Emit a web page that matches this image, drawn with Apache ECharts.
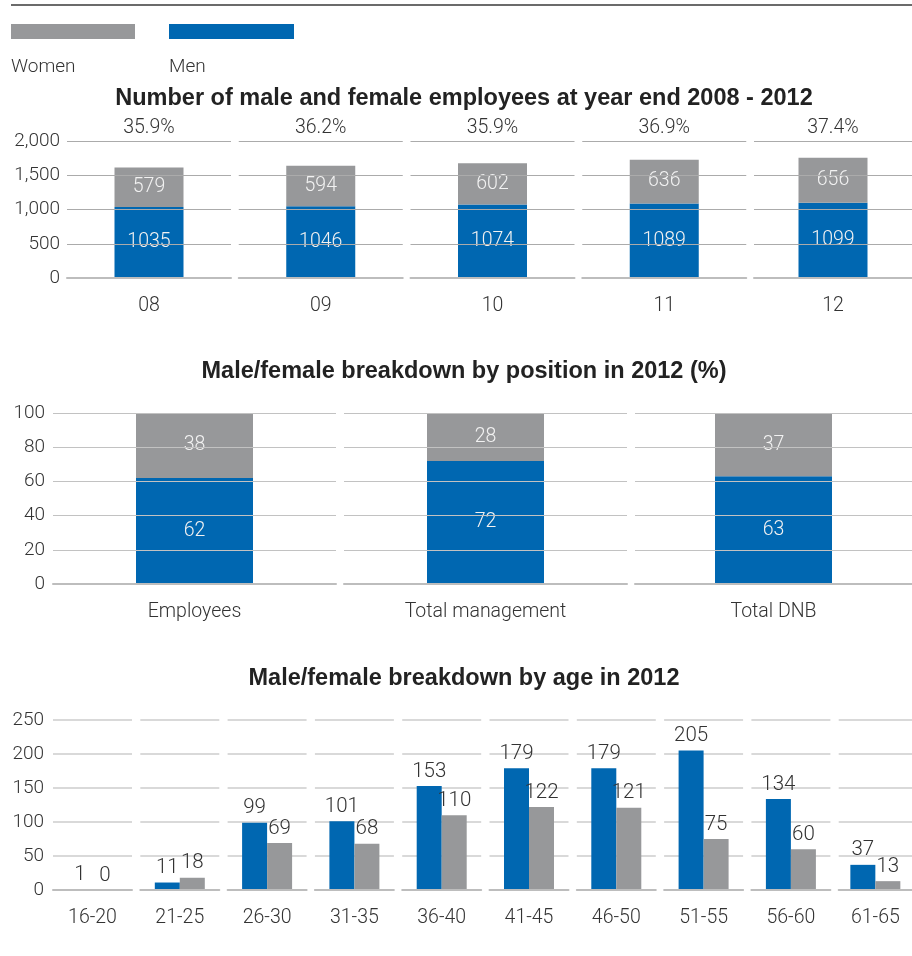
<!DOCTYPE html>
<html>
<head>
<meta charset="utf-8">
<script src="https://cdn.jsdelivr.net/npm/echarts/dist/echarts.min.js"></script>
<style>
  html, body { margin: 0; padding: 0; background: #fff; }
  #chart { width: 912px; height: 956px; }
</style>
</head>
<body>
<div id="chart"></div>
<script>
// Employees at year end, 2008-2012
const years = ['08', '09', '10', '11', '12'];
const menByYear = [1035, 1046, 1074, 1089, 1099];
const womenByYear = [579, 594, 602, 636, 656];
const womenShareByYear = ['35.9%', '36.2%', '35.9%', '36.9%', '37.4%'];

// Breakdown by position in 2012 (%)
const positions = ['Employees', 'Total management', 'Total DNB'];
const menByPosition = [62, 72, 63];
const womenByPosition = [38, 28, 37];

// Breakdown by age in 2012
const ageGroups = ['16-20', '21-25', '26-30', '31-35', '36-40', '41-45', '46-50', '51-55', '56-60', '61-65'];
const menByAge = [1, 11, 99, 101, 153, 179, 179, 205, 134, 37];
const womenByAge = [0, 18, 69, 68, 110, 122, 121, 75, 60, 13];

const titles = [
  'Number of male and female employees at year end 2008 - 2012',
  'Male/female breakdown by position in 2012 (%)',
  'Male/female breakdown by age in 2012'
];

const BLUE = '#0067b1';
const GREY = '#97989a';
const TEXT = '#333333';
const FONT = 'Roboto';
const LIGHT = 300;

const grids = [], xAxes = [], yAxes = [], series = [];

// One small grid per category, so each category gets its own gridline segment
function addPanelGrid(p, i, category, y) {
  const gi = grids.length;
  grids.push({ left: p.left + i * p.step, top: p.top, width: p.width, height: p.height });
  xAxes.push({
    type: 'category', gridIndex: gi, data: [category],
    axisTick: { show: false },
    axisLine: { show: true, lineStyle: { color: p.baseColor, width: 2 } },
    axisLabel: { margin: 18, color: TEXT, fontFamily: FONT, fontWeight: LIGHT, fontSize: 19.5 },
    z: 6
  });
  yAxes.push({
    type: 'value', gridIndex: gi, min: 0, max: y.max, interval: y.interval,
    z: p.linesOnTop ? 5 : 0,
    axisLine: { show: false }, axisTick: { show: false },
    splitLine: { show: true, lineStyle: { color: p.lineColor, width: p.lineWidth } },
    axisLabel: {
      show: i === 0, margin: p.labelMargin, color: TEXT, fontFamily: FONT, fontWeight: LIGHT,
      fontSize: 19, verticalAlign: 'middle', padding: [0, 0, 11, 0],
      formatter: v => y.comma ? v.toLocaleString('en-US') : String(v)
    }
  });
  return gi;
}

const P1 = { left: 67, step: 171.75, width: 164, top: 141, height: 137, linesOnTop: true,
  lineColor: '#ababab', lineWidth: 1, baseColor: '#bdbdbd', labelMargin: 7 };
const P2 = { left: 53, step: 291, width: 283, top: 413, height: 171, linesOnTop: true,
  lineColor: '#c2c2c2', lineWidth: 1.2, baseColor: '#bdbdbd', labelMargin: 8 };
const P3 = { left: 53, step: 87.3, width: 79, top: 720, height: 170, linesOnTop: false,
  lineColor: '#cdcdcd', lineWidth: 1.5, baseColor: '#bdbdbd', labelMargin: 9 };

const insideLabel = { show: true, position: 'inside', color: '#f2f2f2', fontFamily: FONT, fontWeight: LIGHT, fontSize: 19.5 };
const topLabel = { show: true, position: 'top', distance: 4, color: TEXT, fontFamily: FONT, fontWeight: LIGHT, fontSize: 20.5 };

// Panel 1: stacked totals per year, women's share on top
years.forEach((yr, i) => {
  const gi = addPanelGrid(P1, i, yr, { max: 2000, interval: 500, comma: true });
  xAxes.push({
    type: 'category', gridIndex: gi, position: 'top', data: [womenShareByYear[i]],
    axisLine: { show: false }, axisTick: { show: false },
    axisLabel: { margin: 3, color: TEXT, fontFamily: FONT, fontWeight: LIGHT, fontSize: 19.5 }
  });
  const xi = xAxes.length - 2;
  series.push({ type: 'bar', name: 'Men', xAxisIndex: xi, yAxisIndex: gi, stack: 'y' + i,
    barWidth: 69, data: [menByYear[i]], itemStyle: { color: BLUE }, label: insideLabel });
  series.push({ type: 'bar', name: 'Women', xAxisIndex: xi, yAxisIndex: gi, stack: 'y' + i,
    barWidth: 69, data: [womenByYear[i]], itemStyle: { color: GREY }, label: insideLabel });
});

// Panel 2: stacked percentages by position
positions.forEach((pos, i) => {
  const gi = addPanelGrid(P2, i, pos, { max: 100, interval: 20 });
  const xi = xAxes.length - 1;
  series.push({ type: 'bar', name: 'Men', xAxisIndex: xi, yAxisIndex: gi, stack: 'p' + i,
    barWidth: 117, data: [menByPosition[i]], itemStyle: { color: BLUE }, label: insideLabel });
  series.push({ type: 'bar', name: 'Women', xAxisIndex: xi, yAxisIndex: gi, stack: 'p' + i,
    barWidth: 117, data: [womenByPosition[i]], itemStyle: { color: GREY }, label: insideLabel });
});

// Panel 3: side-by-side bars by age group
ageGroups.forEach((ag, i) => {
  const gi = addPanelGrid(P3, i, ag, { max: 250, interval: 50 });
  const xi = xAxes.length - 1;
  series.push({ type: 'bar', name: 'Men', xAxisIndex: xi, yAxisIndex: gi,
    barWidth: 25, barGap: '0%', data: [menByAge[i]], itemStyle: { color: BLUE }, label: topLabel });
  series.push({ type: 'bar', name: 'Women', xAxisIndex: xi, yAxisIndex: gi,
    barWidth: 25, barGap: '0%', data: [womenByAge[i]], itemStyle: { color: GREY }, label: topLabel });
});

const titleStyle = { fontFamily: 'Liberation Sans', fontWeight: 'bold', fontSize: 23.5, color: '#222' };
const titleTops = [87, 360, 667];

const chart = echarts.init(document.getElementById('chart'), null, { renderer: 'canvas' });
chart.setOption({
  animation: false,
  backgroundColor: '#ffffff',
  title: titles.map((t, k) => ({
    text: t, left: 464, top: titleTops[k], textAlign: 'center', padding: 0, textStyle: titleStyle
  })),
  grid: grids,
  xAxis: xAxes,
  yAxis: yAxes,
  series: series,
  graphic: [
    { type: 'line', shape: { x1: 11, y1: 5, x2: 912, y2: 5 }, style: { stroke: '#3a3a3a', lineWidth: 1.5 } },
    { type: 'rect', shape: { x: 11, y: 24, width: 124, height: 15 }, style: { fill: GREY } },
    { type: 'rect', shape: { x: 169, y: 24, width: 125, height: 15 }, style: { fill: BLUE } },
    { type: 'text', x: 11, y: 67, style: { text: 'Women', fill: TEXT, font: LIGHT + ' 19px ' + FONT, verticalAlign: 'middle' } },
    { type: 'text', x: 169, y: 67, style: { text: 'Men', fill: TEXT, font: LIGHT + ' 19px ' + FONT, verticalAlign: 'middle' } }
  ]
});
</script>
</body>
</html>
